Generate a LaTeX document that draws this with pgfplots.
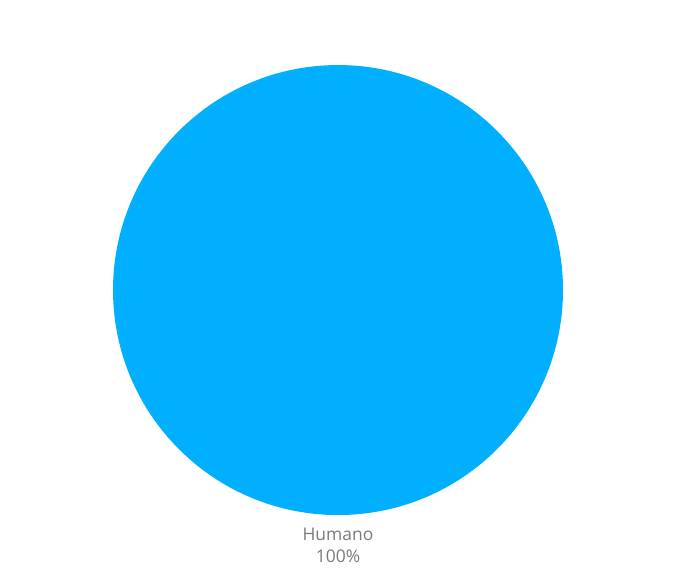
\documentclass[border=0pt]{standalone}
\usepackage{pgfplots}
\pgfplotsset{compat=1.18}
\usepackage{pgfplotstable}
\usepackage{fontspec}
\setmainfont{Open Sans}
\definecolor{slice}{HTML}{00B0FF}
\definecolor{lbl}{HTML}{7A7A7A}
\pgfplotstableread{
label value
Humano 100
}\piedata
\begin{document}
\begin{tikzpicture}
\begin{axis}[
  width=512.25pt, height=435.75pt, scale only axis,
  xmin=-1.502, xmax=1.533, ymin=-1.293, ymax=1.289,
  hide axis, clip=false,
]
\pgfplotstablegetelem{0}{value}\of\piedata
\let\pv\pgfplotsretval
\path (rel axis cs:0,0) rectangle (rel axis cs:1,1);
% single slice: 100% -> full disc of radius 1 axis unit (=168.75pt)
\fill[slice] (axis cs:0,0) circle[radius=168.75pt];
\node[anchor=base, text=lbl, font=\fontsize{13.1pt}{15pt}\selectfont] at (axis cs:0,-1.111) {Humano};
\node[anchor=base, text=lbl, font=\fontsize{13.1pt}{15pt}\selectfont] at (axis cs:0,-1.209) {\pv\%};
\end{axis}
\end{tikzpicture}
\end{document}
